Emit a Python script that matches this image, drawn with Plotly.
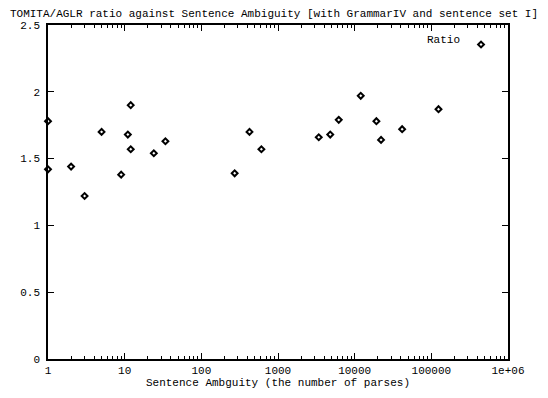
import plotly.graph_objects as go

# Data
ambiguity = [1, 1, 2, 3, 5, 9, 11, 12, 12, 24, 34, 272, 425, 607,
             3400, 4800, 6200, 12000, 19200, 22100, 41600, 124000]
ratio = [1.78, 1.42, 1.44, 1.22, 1.70, 1.38, 1.68, 1.90, 1.57, 1.54, 1.63,
         1.39, 1.70, 1.57, 1.66, 1.68, 1.79, 1.97, 1.78, 1.64, 1.72, 1.87]
x_tickvals = [1, 10, 100, 1000, 10000, 100000, 1000000]
x_ticktext = ["1", "10", "100", "1000", "10000", "100000", "1e+06"]
y_tickvals = [0, 0.5, 1, 1.5, 2, 2.5]
y_ticktext = ["0", "0.5", "1", "1.5", "2", "2.5"]

FONT = "Liberation Mono, Courier New, monospace"
TXT = dict(family=FONT, size=11, color="black")

# The page body has an 8px default margin, so the figure is 540x390
# and its margins are reduced accordingly.
W, H = 540, 390

fig = go.Figure()
fig.add_trace(go.Scatter(
    x=ambiguity, y=ratio, mode="markers", name="",
    marker=dict(symbol="diamond-open", size=4.5, color="black",
                line=dict(width=2, color="black")),
    cliponaxis=False, showlegend=True,
))

axis_common = dict(
    showline=True, linecolor="black", linewidth=1.5, mirror="allticks",
    ticks="inside", tickcolor="black", ticklen=6, tickwidth=1,
    showgrid=False, zeroline=False,
    tickfont=TXT,
)

fig.update_layout(
    width=W, height=H,
    margin=dict(l=35, r=40, t=16, b=29),
    paper_bgcolor="white", plot_bgcolor="white",
    font=TXT,
    title=dict(text="TOMITA/AGLR ratio against Sentence Ambiguity [with GrammarIV and sentence set I]",
               x=266 / W, xref="container", xanchor="center",
               y=1 - 5 / H, yref="container", yanchor="middle",
               font=TXT),
    xaxis=dict(type="log", range=[0, 6], tickvals=x_tickvals, ticktext=x_ticktext,
               minor=dict(ticks="inside", ticklen=3, tickcolor="black", dtick="D1", showgrid=False),
               title=dict(text="Sentence Ambguity (the number of parses)", standoff=1, font=TXT),
               **axis_common),
    yaxis=dict(range=[0, 2.5], tickvals=y_tickvals, ticktext=y_ticktext,
               ticklabelstandoff=4, **axis_common),
    showlegend=True,
    legend=dict(x=463 / 465, y=0.985, xanchor="right", yanchor="top",
                bgcolor="rgba(0,0,0,0)", borderwidth=0, font=TXT, itemwidth=30),
    annotations=[dict(text="Ratio", x=419 / 465, y=1 - 15 / 345, xref="paper", yref="paper",
                      xanchor="right", yanchor="middle", showarrow=False, font=TXT)],
)

fig.write_html("out.html")
